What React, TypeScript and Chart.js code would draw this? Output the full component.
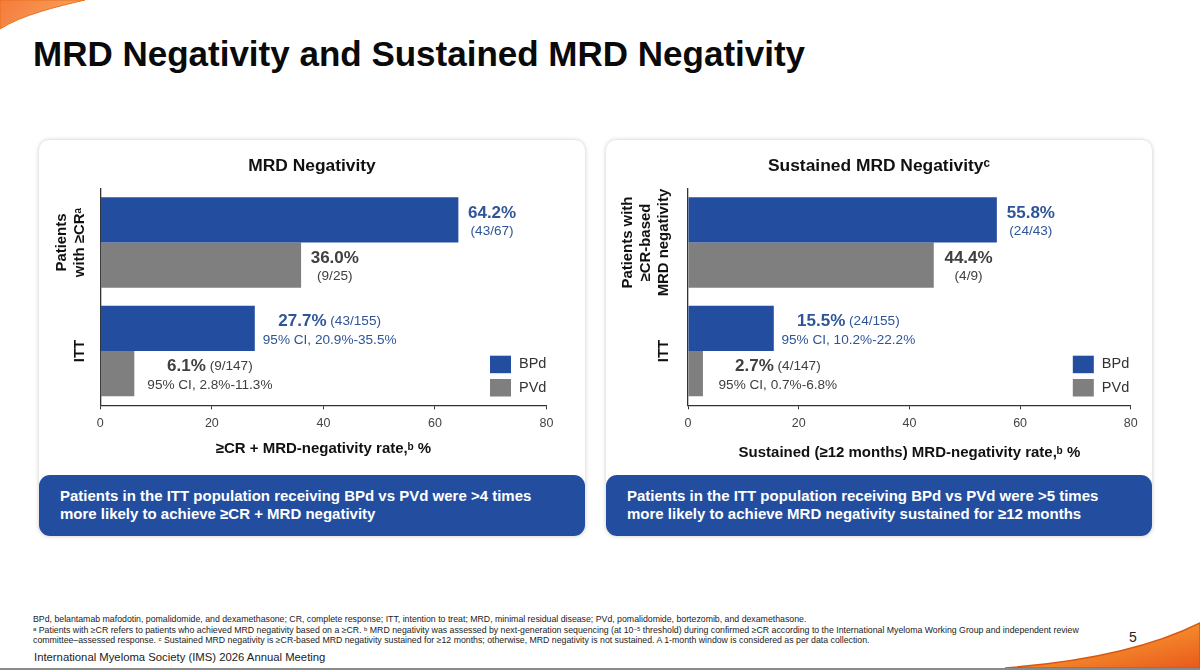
import { useEffect, useRef } from 'react';
import { Chart, registerables } from 'chart.js';

Chart.register(...registerables);

const FONT = '"Liberation Sans", Arial, sans-serif';
const BLUE = '#234EA0';
const GRAY = '#7F7F7F';
const BLUE_TEXT = '#2F5597';
const GRAY_TEXT = '#404040';

const seriesNames = ['BPd', 'PVd'];
const axisTicks = [0, 20, 40, 60, 80];

// left panel
const negCategories = [['Patients', 'with ≥CRᵃ'], ['ITT']];
const negBpd = [64.2, 27.7];
const negPvd = [36.0, 6.1];
const negBpdCounts = ['(43/67)', '(43/155)'];
const negPvdCounts = ['(9/25)', '(9/147)'];
const negBpdCi = ['', '95% CI, 20.9%-35.5%'];
const negPvdCi = ['', '95% CI, 2.8%-11.3%'];

// right panel
const susCategories = [['Patients with', '≥CR-based', 'MRD negativity'], ['ITT']];
const susBpd = [55.8, 15.5];
const susPvd = [44.4, 2.7];
const susBpdCounts = ['(24/43)', '(24/155)'];
const susPvdCounts = ['(4/9)', '(4/147)'];
const susBpdCi = ['', '95% CI, 10.2%-22.2%'];
const susPvdCi = ['', '95% CI, 0.7%-6.8%'];

// draws the panel title, rotated category labels, the text beside the bars and the legend
const slidePlugin = {
  id: 'slideText',
  afterDatasetsDraw(chart: any, _args: any, opts: any) {
    const { ctx, chartArea } = chart;
    const yScale = chart.scales.y;
    ctx.save();

    // panel title, centred on the card rather than the plot
    ctx.fillStyle = '#111';
    ctx.font = `bold 17.4px ${FONT}`;
    ctx.textAlign = 'center';
    ctx.textBaseline = 'middle';
    ctx.fillText(opts.title, chart.width / 2, 26);

    // category labels
    ctx.font = `bold 14.9px ${FONT}`;
    opts.categories.forEach((lines: string[], i: number) => {
      lines.forEach((line, k) => {
        ctx.save();
        ctx.translate(chartArea.left - opts.catOffset - (lines.length - 1 - k) * 18, yScale.getPixelForTick(i));
        ctx.rotate(-Math.PI / 2);
        ctx.fillText(line, 0, 0);
        ctx.restore();
      });
    });

    // bar labels
    chart.data.datasets.forEach((_ds: any, d: number) => {
      const color = d === 0 ? BLUE_TEXT : GRAY_TEXT;
      chart.getDatasetMeta(d).data.forEach((bar: any, i: number) => {
        const value = opts.values[d][i].toFixed(1) + '%';
        const count = opts.counts[d][i];
        const ci = opts.ci[d][i];
        const boldFont = `bold 17px ${FONT}`;
        const smallFont = `13.6px ${FONT}`;
        ctx.fillStyle = color;
        ctx.textBaseline = 'middle';
        ctx.textAlign = 'left';

        const line1 = ci ? ' ' + count : '';
        const line2 = ci || count;
        ctx.font = boldFont;
        const valueW = ctx.measureText(value).width;
        ctx.font = smallFont;
        const extraW = ctx.measureText(line1).width;
        const line2W = ctx.measureText(line2).width;
        const w1 = valueW + extraW;
        const block = Math.max(w1, line2W);
        const cx = bar.x + opts.gaps[d][i] + block / 2;

        ctx.font = boldFont;
        ctx.fillText(value, cx - w1 / 2, bar.y - 7);
        ctx.font = smallFont;
        if (line1) ctx.fillText(line1, cx - w1 / 2 + valueW, bar.y - 7);
        ctx.fillText(line2, cx - line2W / 2, bar.y + 11.5);
      });
    });

    // legend
    chart.data.datasets.forEach((ds: any, d: number) => {
      const x = chartArea.right - opts.legendInset;
      const y = chartArea.bottom + (d === 0 ? -49.6 : -26.3);
      ctx.fillStyle = ds.backgroundColor;
      ctx.fillRect(x, y, 21, 17.5);
      ctx.fillStyle = '#333';
      ctx.font = `14.5px ${FONT}`;
      ctx.textAlign = 'left';
      ctx.textBaseline = 'middle';
      ctx.fillText(ds.label, x + 29, y + 8.5);
    });
    ctx.restore();
  },
};

type PanelProps = {
  left: number;
  title: string;
  axisTitle: string;
  categories: string[][];
  bpd: number[];
  pvd: number[];
  bpdCounts: string[];
  pvdCounts: string[];
  bpdCi: string[];
  pvdCi: string[];
  gaps: number[][];
  axisWidth: number;
  rightPad: number;
  catOffset: number;
  legendInset: number;
  titlePad: number;
  callout: [string, string];
};

const Panel = (p: PanelProps) => {
  const chartRef = useRef<HTMLCanvasElement>(null);

  useEffect(() => {
    if (!chartRef.current) return;
    const chart = new Chart(chartRef.current, {
      type: 'bar',
      data: {
        labels: p.categories.map((c) => c.join(' ')),
        datasets: [
          { label: seriesNames[0], data: p.bpd, backgroundColor: BLUE },
          { label: seriesNames[1], data: p.pvd, backgroundColor: GRAY },
        ],
      },
      plugins: [slidePlugin],
      options: {
        indexAxis: 'y',
        animation: false,
        responsive: false,
        devicePixelRatio: 1,
        layout: { padding: { left: 0, right: p.rightPad, top: 48.3, bottom: 0 } },
        datasets: { bar: { categoryPercentage: 0.835, barPercentage: 1 } },
        plugins: {
          legend: { display: false },
          tooltip: { enabled: false },
          slideText: {
            title: p.title,
            categories: p.categories,
            values: [p.bpd, p.pvd],
            counts: [p.bpdCounts, p.pvdCounts],
            ci: [p.bpdCi, p.pvdCi],
            gaps: p.gaps,
            catOffset: p.catOffset,
            legendInset: p.legendInset,
          },
        } as any,
        scales: {
          x: {
            min: 0,
            max: 80,
            afterFit: (scale: any) => {
              scale.height = 69.7;
            },
            afterBuildTicks: (scale: any) => {
              scale.ticks = axisTicks.map((value) => ({ value }));
            },
            grid: { display: true, drawOnChartArea: false, drawTicks: true, tickLength: 4, color: '#333' },
            border: { display: true, color: '#333', width: 1.3 },
            ticks: { color: '#444', font: { family: FONT, size: 12.5 }, padding: 7, maxRotation: 0 },
            title: {
              display: true,
              text: p.axisTitle,
              color: '#111',
              font: { family: FONT, size: 15, weight: 'bold', lineHeight: 1.2 },
              padding: { top: 0, bottom: p.titlePad },
            },
          },
          y: {
            afterFit: (scale: any) => {
              scale.width = p.axisWidth;
            },
            grid: { display: false },
            border: { display: true, color: '#333', width: 1.3 },
            ticks: { display: false },
          },
        },
      } as any,
    });
    return () => chart.destroy();
  }, []);

  return (
    <>
      <div
        style={{
          position: 'absolute',
          left: p.left,
          top: 140,
          width: 546,
          height: 396,
          borderRadius: 10,
          background: '#fff',
          boxShadow: '0 0 4px rgba(0,0,0,0.22)',
        }}
      />
      <canvas
        ref={chartRef}
        width={546}
        height={335}
        style={{ position: 'absolute', left: p.left, top: 140, width: 546, height: 335 }}
      />
      <div
        style={{
          position: 'absolute',
          left: p.left,
          top: 475,
          width: 546,
          height: 61,
          borderRadius: 11,
          background: BLUE,
          color: '#fff',
          font: `bold 15px/18px ${FONT}`,
          boxSizing: 'border-box',
          padding: '12px 0 0 21px',
          whiteSpace: 'nowrap',
        }}
      >
        {p.callout[0]}
        <br />
        {p.callout[1]}
      </div>
    </>
  );
};

const footStyle = (top: number): any => ({
  position: 'absolute',
  left: 33,
  top,
  font: `8.76px/10px ${FONT}`,
  color: '#222',
  whiteSpace: 'nowrap',
});

const supStyle: any = { fontSize: 6, verticalAlign: 2, lineHeight: 0 };

const App = () => (
  <div
    style={{
      position: 'absolute',
      left: 0,
      top: 0,
      width: 1200,
      height: 670,
      overflow: 'hidden',
      background: '#fff',
      fontFamily: FONT,
    }}
  >
    <svg width={1200} height={670} style={{ position: 'absolute', left: 0, top: 0 }}>
      <defs>
        <linearGradient id="topSwoosh" x1="0" y1="0" x2="1" y2="0.3">
          <stop offset="0" stopColor="#F47B3A" />
          <stop offset="1" stopColor="#F9A25E" />
        </linearGradient>
        <linearGradient id="bottomSwoosh" x1="0" y1="0" x2="1" y2="1">
          <stop offset="0" stopColor="#F7B233" />
          <stop offset="0.5" stopColor="#F58A2B" />
          <stop offset="1" stopColor="#E8591C" />
        </linearGradient>
      </defs>
      <path d="M0 0 H85 C55 7 22 15 0 29 Z" fill="url(#topSwoosh)" stroke="#E8701E" strokeWidth={1} />
      <path d="M1005 668 C1085 662 1150 648 1200 623 V668 Z" fill="url(#bottomSwoosh)" stroke="#D9560F" strokeWidth={1.5} />
      <rect x={0} y={668} width={1200} height={2} fill="#8a8a8a" />
    </svg>

    <div
      style={{
        position: 'absolute',
        left: 33,
        top: 36,
        font: `bold 35px/36px ${FONT}`,
        color: '#0a0a0a',
        whiteSpace: 'nowrap',
      }}
    >
      MRD Negativity and Sustained MRD Negativity
    </div>

    <Panel
      left={39}
      title="MRD Negativity"
      axisTitle="≥CR + MRD-negativity rate,ᵇ %"
      categories={negCategories}
      bpd={negBpd}
      pvd={negPvd}
      bpdCounts={negBpdCounts}
      pvdCounts={negPvdCounts}
      bpdCi={negBpdCi}
      pvdCi={negPvdCi}
      gaps={[[9.6, 8], [9.6, 13]]}
      axisWidth={61.3}
      rightPad={38.5}
      catOffset={20}
      legendInset={56.5}
      titlePad={16.8}
      callout={[
        'Patients in the ITT population receiving BPd vs PVd were >4 times',
        'more likely to achieve ≥CR + MRD negativity',
      ]}
    />
    <Panel
      left={606}
      title="Sustained MRD Negativityᶜ"
      axisTitle="Sustained (≥12 months) MRD-negativity rate,ᵇ %"
      categories={susCategories}
      bpd={susBpd}
      pvd={susPvd}
      bpdCounts={susBpdCounts}
      pvdCounts={susPvdCounts}
      bpdCi={susBpdCi}
      pvdCi={susPvdCi}
      gaps={[[9.9, 7.7], [10.7, 15.6]]}
      axisWidth={82}
      rightPad={21.2}
      catOffset={24}
      legendInset={58}
      titlePad={13.4}
      callout={[
        'Patients in the ITT population receiving BPd vs PVd were >5 times',
        'more likely to achieve MRD negativity sustained for ≥12 months',
      ]}
    />

    <div style={footStyle(614)}>
      BPd, belantamab mafodotin, pomalidomide, and dexamethasone; CR, complete response; ITT, intention to treat; MRD, minimal residual disease; PVd, pomalidomide, bortezomib, and dexamethasone.
    </div>
    <div style={footStyle(624.5)}>
      <sup style={supStyle}>a</sup> Patients with ≥CR refers to patients who achieved MRD negativity based on a ≥CR. <sup style={supStyle}>b</sup> MRD negativity was assessed by next-generation sequencing (at 10<sup style={supStyle}>−5</sup> threshold) during confirmed ≥CR according to the International Myeloma Working Group and independent review
    </div>
    <div style={footStyle(635)}>
      committee–assessed response. <sup style={supStyle}>c</sup> Sustained MRD negativity is ≥CR-based MRD negativity sustained for ≥12 months; otherwise, MRD negativity is not sustained. A 1-month window is considered as per data collection.
    </div>
    <div
      style={{
        position: 'absolute',
        left: 34,
        top: 650,
        font: `11.3px/14px ${FONT}`,
        color: '#222',
        whiteSpace: 'nowrap',
      }}
    >
      International Myeloma Society (IMS) 2026 Annual Meeting
    </div>
    <div style={{ position: 'absolute', left: 1129, top: 629, font: `14px/16px ${FONT}`, color: '#222' }}>5</div>
  </div>
);

export default App;
